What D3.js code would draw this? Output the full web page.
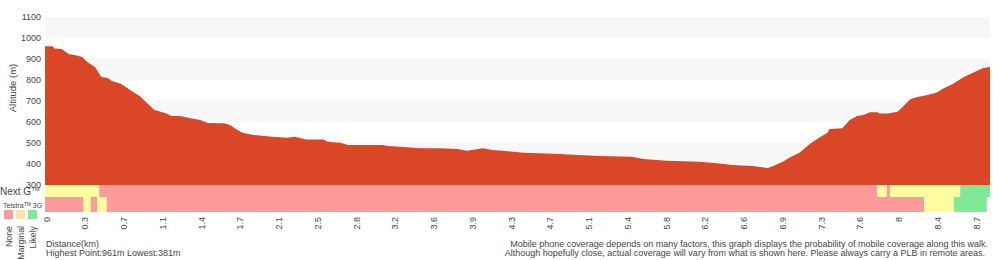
<!DOCTYPE html>
<html>
<head>
<meta charset="utf-8">
<script src="https://cdn.jsdelivr.net/npm/d3@7"></script>
<style>
  body { margin: 0; background: #fff; }
  svg text { font-family: "Liberation Sans", Arial, sans-serif; fill: #444; }
</style>
</head>
<body>
<div class="diagram"></div>
<script>
var width = 1000, height = 260;

// elevation profile, km / metres
var distKm = [0, 0.07, 0.09, 0.16, 0.22, 0.28, 0.35, 0.40, 0.47, 0.53, 0.59, 0.63, 0.72, 0.80, 0.89, 0.99, 1.03, 1.13, 1.19, 1.27,
  1.36, 1.46, 1.53, 1.69, 1.74, 1.81, 1.86, 1.96, 2.14, 2.28, 2.35, 2.46, 2.62, 2.66, 2.78, 2.85, 3.18, 3.22, 3.34, 3.53,
  3.72, 3.88, 3.97, 4.12, 4.21, 4.31, 4.50, 4.66, 4.84, 4.97, 5.22, 5.52, 5.63, 5.85, 6.16, 6.32, 6.47, 6.66, 6.80, 6.85,
  6.94, 7.01, 7.10, 7.20, 7.29, 7.36, 7.38, 7.50, 7.57, 7.64, 7.70, 7.76, 7.83, 7.85, 7.93, 8.02, 8.07, 8.14, 8.20, 8.30,
  8.39, 8.45, 8.54, 8.64, 8.73, 8.82, 8.89];
var altM = [961, 961, 950, 948, 924, 919, 910, 885, 862, 814, 810, 795, 781, 752, 724, 676, 657, 643, 629, 629,
  619, 610, 595, 594, 586, 562, 549, 538, 530, 525, 530, 517, 517, 506, 501, 490, 490, 486, 482, 475,
  475, 471, 463, 475, 467, 463, 454, 451, 448, 444, 438, 435, 424, 416, 411, 403, 395, 390, 381, 390,
  411, 432, 455, 498, 527, 549, 567, 570, 610, 629, 633, 646, 646, 641, 641, 649, 673, 708, 718, 729,
  740, 760, 781, 813, 835, 856, 863];

var totalKm = 8.89;
var altTicks = [300, 400, 500, 600, 700, 800, 900, 1000, 1100];
var distLabels = ['0', '0.3', '0.7', '1.1', '1.4', '1.7', '2.1', '2.5', '2.8', '3.2', '3.6', '3.9', '4.3', '4.7',
  '5.1', '5.4', '5.8', '6.2', '6.6', '6.9', '7.3', '7.6', '8', '8.4', '8.7'];

// coverage: [from km, to km, level]  0 none, 1 marginal, 2 likely
var nextG = [[0, 0.51, 1], [0.51, 7.83, 0], [7.83, 7.92, 1], [7.92, 7.95, 0], [7.95, 8.61, 1], [8.61, 8.89, 2]];
var telstra3G = [[0, 0.36, 0], [0.36, 0.43, 1], [0.43, 0.49, 0], [0.49, 0.58, 1], [0.58, 8.27, 0], [8.27, 8.55, 1], [8.55, 8.86, 2]];

var levelNames = ['None', 'Marginal', 'Likely'];
var barColors = ['#fe9a97', '#fefd9f', '#7fe998'];
var legendColors = ['#fe9a97', '#fee3a6', '#7fe998'];

var svg = d3.select('.diagram').append('svg')
  .attr('width', width).attr('height', height);

var x = d3.scaleLinear().domain([0, totalKm]).range([45, 990]),
    y = d3.scaleLinear().domain([300, 1100]).range([185, 17]),
    xt = d3.scalePoint().domain(distLabels).range([46.5, 976.5]);

// alternating bands
svg.selectAll('.band')
  .data([1000, 800, 600, 400])
  .enter().append('rect')
  .attr('class', 'band')
  .attr('x', x(0)).attr('width', x(totalKm) - x(0))
  .attr('y', function(d) { return y(d + 100); })
  .attr('height', function(d) { return y(d) - y(d + 100); })
  .attr('fill', '#f7f7f7');

var profile = distKm.map(function(d, i) { return {km: d, alt: altM[i]}; });

var area = d3.area()
  .x(function(d) { return x(d.km); })
  .y0(y(300))
  .y1(function(d) { return y(d.alt); });

svg.append('path')
  .datum(profile)
  .attr('d', area)
  .attr('fill', '#d94727');

// coverage rows
function coverageRow(data, top, h) {
  svg.append('g').selectAll('rect')
    .data(data)
    .enter().append('rect')
    .attr('x', function(d) { return x(d[0]); })
    .attr('width', function(d) { return x(d[1]) - x(d[0]); })
    .attr('y', top).attr('height', h)
    .attr('fill', function(d) { return barColors[d[2]]; });
}
coverageRow(nextG, 185, 12);
coverageRow(telstra3G, 197, 15);

// y axis labels
svg.append('g').selectAll('text')
  .data(altTicks)
  .enter().append('text')
  .attr('x', 41).attr('y', function(d) { return y(d); })
  .attr('dy', '0.35em')
  .attr('text-anchor', 'end')
  .attr('font-size', 9)
  .text(function(d) { return d; });

svg.append('text')
  .attr('transform', 'translate(16,' + 88 + ') rotate(-90)')
  .attr('text-anchor', 'middle')
  .attr('font-size', 9.5)
  .text('Altitude (m)');

// x axis labels
svg.append('g').selectAll('text')
  .data(distLabels)
  .enter().append('text')
  .attr('transform', function(d) { return 'translate(' + xt(d) + ',217) rotate(-90)'; })
  .attr('dy', '0.35em')
  .attr('text-anchor', 'end')
  .attr('font-size', 9)
  .text(function(d) { return d; });

// row labels + legend
var ng = svg.append('text').attr('x', 0).attr('y', 195).attr('font-size', 10).text('Next G');
ng.append('tspan').attr('font-size', 6).attr('dy', -4).text('TM');

var tl = svg.append('text').attr('x', 3).attr('y', 208).attr('font-size', 7).text('Telstra');
tl.append('tspan').attr('font-size', 5).attr('dy', -2).text('TM');
tl.append('tspan').attr('dy', 2).text(' 3G');

svg.append('g').selectAll('rect')
  .data(levelNames)
  .enter().append('rect')
  .attr('x', function(d, i) { return 4 + i * 12; })
  .attr('y', 210).attr('width', 9).attr('height', 9)
  .attr('fill', function(d, i) { return legendColors[i]; });

svg.append('g').selectAll('text')
  .data(levelNames)
  .enter().append('text')
  .attr('transform', function(d, i) { return 'translate(' + (8.5 + i * 12) + ',226) rotate(-90)'; })
  .attr('dy', '0.35em')
  .attr('text-anchor', 'end')
  .attr('font-size', 8.8)
  .text(function(d) { return d; });

// footer
svg.append('text').attr('x', 46).attr('y', 247).attr('font-size', 9).text('Distance(km)');
svg.append('text').attr('x', 46).attr('y', 256).attr('font-size', 9)
  .text('Highest Point:' + d3.max(altM) + 'm Lowest:' + d3.min(altM) + 'm');

svg.append('text').attr('x', 988).attr('y', 247).attr('font-size', 9).attr('text-anchor', 'end')
  .text('Mobile phone coverage depends on many factors, this graph displays the probability of mobile coverage along this walk.');
svg.append('text').attr('x', 985).attr('y', 256).attr('font-size', 9).attr('text-anchor', 'end')
  .text('Although hopefully close, actual coverage will vary from what is shown here. Please always carry a PLB in remote areas.');
</script>
</body>
</html>
